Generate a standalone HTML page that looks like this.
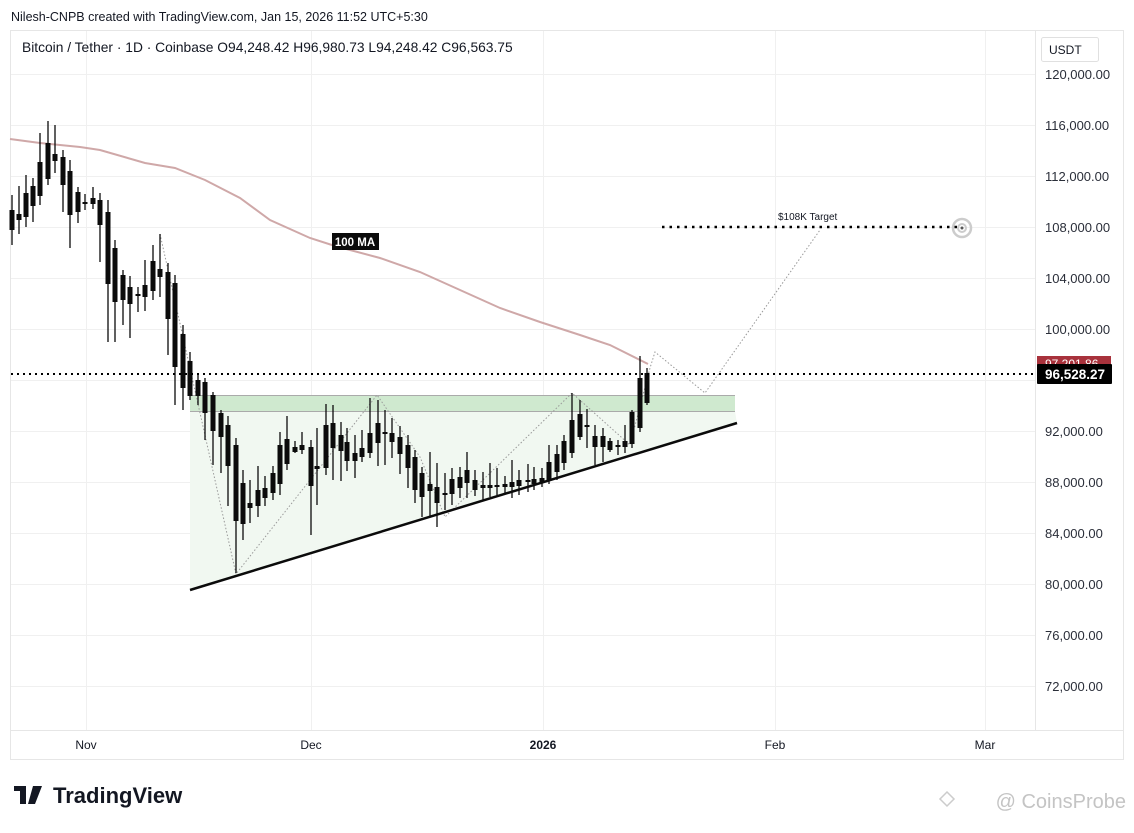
<!DOCTYPE html>
<html><head><meta charset="utf-8"><style>
body{margin:0;background:#fff;width:1134px;height:828px;overflow:hidden;font-family:"Liberation Sans",sans-serif}
</style></head><body>
<svg width="1134" height="828" xmlns="http://www.w3.org/2000/svg" font-family="Liberation Sans, sans-serif">
<text x="11" y="21" font-size="12.5" fill="#131722">Nilesh-CNPB created with TradingView.com, Jan 15, 2026 11:52 UTC+5:30</text>
<rect x="10.5" y="30.5" width="1113" height="729" fill="#fff" stroke="#e6e6e6"/>
<line x1="1035.5" y1="31" x2="1035.5" y2="730" stroke="#e6e6e6"/>
<line x1="11" y1="730.5" x2="1123" y2="730.5" stroke="#e6e6e6"/>
<g stroke="#f0f0f0" stroke-width="1">
<line x1="11" x2="1035" y1="74.5" y2="74.5"/><line x1="11" x2="1035" y1="125.5" y2="125.5"/><line x1="11" x2="1035" y1="176.5" y2="176.5"/><line x1="11" x2="1035" y1="227.5" y2="227.5"/><line x1="11" x2="1035" y1="278.5" y2="278.5"/><line x1="11" x2="1035" y1="329.5" y2="329.5"/><line x1="11" x2="1035" y1="380.5" y2="380.5"/><line x1="11" x2="1035" y1="431.5" y2="431.5"/><line x1="11" x2="1035" y1="482.5" y2="482.5"/><line x1="11" x2="1035" y1="533.5" y2="533.5"/><line x1="11" x2="1035" y1="584.5" y2="584.5"/><line x1="11" x2="1035" y1="635.5" y2="635.5"/><line x1="11" x2="1035" y1="686.5" y2="686.5"/>
<line x1="86.5" x2="86.5" y1="31" y2="730"/><line x1="311.5" x2="311.5" y1="31" y2="730"/><line x1="543.5" x2="543.5" y1="31" y2="730"/><line x1="775.5" x2="775.5" y1="31" y2="730"/><line x1="985.5" x2="985.5" y1="31" y2="730"/>
</g>
<text x="22" y="52" font-size="13.8" fill="#131722">Bitcoin / Tether · 1D · Coinbase  O94,248.42  H96,980.73  L94,248.42  C96,563.75</text>
<rect x="1041.5" y="37.5" width="57" height="24" fill="#fff" stroke="#e0e0e0" rx="2"/>
<text x="1049" y="54" font-size="12" fill="#131722">USDT</text>
<g font-size="13" fill="#2a2e39">
<text x="1045" y="79">120,000.00</text><text x="1045" y="130">116,000.00</text><text x="1045" y="181">112,000.00</text><text x="1045" y="232">108,000.00</text><text x="1045" y="283">104,000.00</text><text x="1045" y="334">100,000.00</text><text x="1045" y="436">92,000.00</text><text x="1045" y="487">88,000.00</text><text x="1045" y="538">84,000.00</text><text x="1045" y="589">80,000.00</text><text x="1045" y="640">76,000.00</text><text x="1045" y="691">72,000.00</text>
</g>
<g font-size="12" fill="#131722" text-anchor="middle">
<text x="86" y="749">Nov</text><text x="311" y="749">Dec</text><text x="543" y="749" font-weight="bold">2026</text><text x="775" y="749">Feb</text><text x="985" y="749">Mar</text>
</g>
<polygon points="190,411 735,411 737,424 190,590" fill="#f1f8f1"/>
<rect x="190" y="395" width="545" height="16" fill="#cfe9cf"/>
<line x1="190" y1="395.5" x2="735" y2="395.5" stroke="#aaa"/>
<line x1="190" y1="411.5" x2="735" y2="411.5" stroke="#aaa"/>
<polyline points="10,139 40,143 80,147 100,150 145,163 175,168 205,180 240,198 270,220 310,238 335,246 380,258 420,272 460,290 500,308 540,322 580,335 610,345 640,360 648,364" fill="none" stroke="#cfa8a8" stroke-width="2"/>
<rect x="332" y="233" width="47" height="17" fill="#0b0b0b"/>
<text x="355" y="246" font-size="11.5" font-weight="bold" fill="#fff" text-anchor="middle">100 MA</text>
<polyline points="160,234 236,574 377,395 420,457 445,517 572,393 630,445 650,368 655,352 705,393 820,230" fill="none" stroke="#999" stroke-width="1" stroke-dasharray="1.5,2"/>
<g id="c" fill="#0b0b0b" stroke="#0b0b0b" stroke-width="1.3">
</g>
<line x1="190" y1="590" x2="737" y2="423" stroke="#0b0b0b" stroke-width="2.5"/>
<line x1="11" y1="374" x2="1035" y2="374" stroke="#000" stroke-width="2" stroke-dasharray="2,4"/>
<line x1="662" y1="227" x2="960" y2="227" stroke="#000" stroke-width="2.5" stroke-dasharray="2.5,5"/>
<text x="778" y="220" font-size="10" fill="#131722">$108K Target</text>
<circle cx="962" cy="228" r="9" fill="none" stroke="#ccc" stroke-width="2.5"/>
<circle cx="962" cy="228" r="4" fill="none" stroke="#ccc" stroke-width="2"/>
<circle cx="962" cy="228" r="1.5" fill="#555"/>
<rect x="1037" y="356" width="74" height="12" fill="#a8323c"/>
<text x="1045" y="368" font-size="12" fill="#fff">97,201.86</text>
<rect x="1037" y="364" width="75" height="20" fill="#000" rx="1"/>
<text x="1045" y="379" font-size="13.5" font-weight="bold" fill="#fff">96,528.27</text>
<path d="M14 786h12v18h-6v-13h-6z M33 786h9l-7 18h-7z" fill="#131722"/>
<text x="53" y="803" font-size="22" font-weight="bold" fill="#131722">TradingView</text>
<text x="1126" y="808" font-size="20" fill="#c4c4c4" text-anchor="end">@ CoinsProbe</text>
<path d="M947 792l7 7-7 7-7-7z" fill="none" stroke="#ccc" stroke-width="1.5"/>
</svg>
<script>
var d=[
[12,210,230,195,245],[19,214,220,186,234],[26,193,217,175,227],[33,186,206,178,222],[40,162,196,133,205],[48,143,179,121,185],[55,154,161,125,173],[63,157,185,150,212],[70,171,215,160,248],[78,192,212,187,223],[85,202,204,194,210],[93,198,204,187,209],[100,200,225,193,262],[108,212,284,200,342],[115,248,302,240,342],[123,275,300,270,325],[130,287,304,276,338],[138,294,296,287,312],[145,285,297,260,311],[153,261,291,245,300],[160,269,277,234,297],[168,272,319,263,355],[175,283,367,275,405],[183,334,388,325,410],[190,361,396,352,400],[198,380,396,375,405],[205,382,413,378,440],[213,395,431,392,465],[221,413,437,410,473],[228,425,466,416,506],[236,445,521,438,573],[243,483,524,470,540],[250,503,508,480,523],[258,490,506,466,517],[265,488,498,476,506],[273,473,493,466,500],[280,445,484,432,495],[287,439,464,416,470],[295,447,452,441,453],[302,445,450,432,454],[311,447,486,440,535],[317,466,469,428,505],[326,425,468,404,475],[333,423,448,405,480],[341,435,451,422,481],[347,442,461,428,471],[355,453,461,435,478],[362,448,457,430,462],[370,433,453,398,458],[378,423,443,400,466],[385,432,434,410,465],[392,433,442,418,458],[400,437,454,426,474],[408,445,468,435,488],[415,457,490,450,503],[422,473,497,467,517],[430,484,491,452,517],[437,487,503,463,527],[445,493,495,473,510],[452,479,494,468,505],[460,477,488,467,498],[467,470,483,452,498],[475,480,490,470,496],[483,485,488,472,500],[490,485,488,463,497],[497,485,487,468,495],[505,484,487,476,494],[512,482,487,460,498],[519,480,486,470,495],[528,480,482,464,492],[534,479,484,467,490],[542,478,482,468,487],[549,462,480,445,484],[557,454,472,445,480],[564,441,463,435,470],[572,420,453,393,458],[580,414,437,400,440],[587,425,427,409,448],[595,436,447,425,465],[603,436,447,428,462],[610,441,450,438,452],[618,445,447,440,455],[625,441,447,425,453],[632,412,444,410,448],[640,378,428,356,432],[647,373,403,368,405]];
var g=document.getElementById('c'),s='';
d.forEach(function(c){var h=Math.max(c[2]-c[1],1.5);s+='<line x1="'+c[0]+'" x2="'+c[0]+'" y1="'+c[3]+'" y2="'+c[4]+'"/><rect x="'+(c[0]-2.5)+'" y="'+c[1]+'" width="5" height="'+h+'" stroke="none"/>';});
g.innerHTML=s;
</script>
</body></html>
